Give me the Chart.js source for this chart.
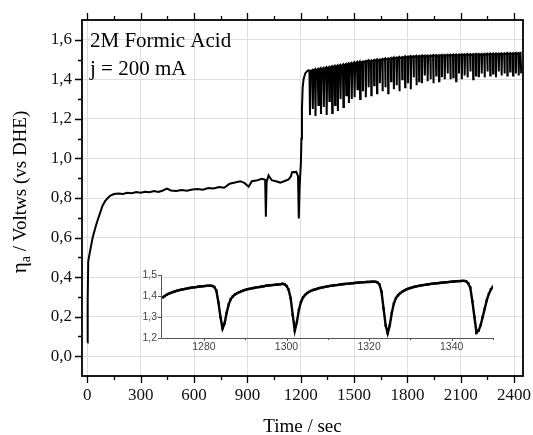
<!DOCTYPE html>
<html>
<head>
<meta charset="utf-8">
<script src="https://cdn.jsdelivr.net/npm/chart.js@4.4.0/dist/chart.umd.min.js"></script>
<style>
  body { margin: 0; background: #fff; }
  #wrap { position: relative; width: 533px; height: 435px; }
  #mainChart { position: absolute; left: 0; top: 0; }
  #insetChart { position: absolute; left: 120px; top: 255px; }
</style>
</head>
<body>
<div id="wrap">
  <canvas id="mainChart" width="533" height="435"></canvas>
  <canvas id="insetChart" width="390" height="105"></canvas>
</div>
<script>
// start-up and plateau, t in sec, potential in V
const rampTime = [0,2,5,15,30,45,55,70,85,100, 115,130,150,175,200,225,250,275,300,325,
  350,375,400,425,447,470,500,530,560,590, 620,650,680,710,740,770,800,830,860,885,
  907,925,950,982,1000,1004,1008,1019,1037,1060, 1085,1110,1132,1145,1151,1175,1185,1189,1194,1201,
  1204,1207,1211,1216,1225,1240];
const rampVolt = [0.07,0.28,0.48,0.53,0.60,0.65,0.68,0.72,0.76,0.785, 0.80,0.812,0.82,0.823,0.82,0.826,0.824,0.83,0.827,0.832,
  0.829,0.835,0.831,0.838,0.848,0.838,0.835,0.84,0.837,0.843, 0.846,0.842,0.85,0.848,0.856,0.852,0.872,0.878,0.885,0.875,
  0.857,0.885,0.888,0.897,0.892,0.705,0.88,0.914,0.89,0.885, 0.878,0.886,0.894,0.91,0.93,0.932,0.91,0.697,0.86,0.98,
  1.10,1.25,1.36,1.40,1.43,1.445];

// oscillating part after 1240 s
const oscTime = [
  1249,1252,1255, 1265,1268,1271, 1280,1283,1286, 1296,1299,1302,
  1311,1314,1317, 1327,1330,1333, 1343,1346,1349, 1358,1361,1364,
  1374,1377,1380, 1390,1393,1396, 1406,1409,1412, 1421,1424,1427,
  1437,1440,1443, 1453,1456,1459, 1468,1471,1474, 1484,1487,1490,
  1500,1503,1506, 1516,1519,1522, 1531,1534,1537, 1548,1550,1552,
  1564,1566,1568, 1580,1582,1584, 1595,1597,1599, 1611,1613,1615,
  1627,1629,1631, 1643,1645,1647, 1658,1660,1662, 1674,1676,1678,
  1690,1692,1694, 1706,1708,1710, 1722,1724,1726, 1738,1740,1742,
  1753,1755,1757, 1769,1771,1773, 1785,1787,1789, 1801,1803,1805,
  1817,1819,1821, 1833,1835,1837, 1849,1851,1853, 1864,1866,1868,
  1880,1882,1884, 1896,1898,1900, 1912,1914,1916, 1928,1930,1932,
  1944,1946,1948, 1960,1962,1964, 1976,1978,1980, 1992,1994,1996,
  2008,2010,2012, 2024,2026,2028, 2040,2042,2044, 2056,2058,2060,
  2072,2074,2076, 2088,2090,2092, 2104,2106,2108, 2120,2122,2124,
  2136,2138,2140, 2152,2154,2156, 2168,2170,2172, 2184,2186,2188,
  2200,2202,2204, 2216,2218,2220, 2232,2234,2236, 2248,2250,2252,
  2264,2266,2268, 2280,2282,2284, 2296,2298,2300, 2312,2314,2316,
  2328,2330,2332, 2344,2346,2348, 2360,2362,2364, 2376,2378,2380,
  2392,2394,2396, 2408,2410,2412, 2424,2426,2428, 2436,2440
];
const oscVolt = [
  1.445,1.22,1.44, 1.447,1.25,1.442, 1.45,1.215,1.445, 1.452,1.27,1.447,
  1.455,1.225,1.45, 1.457,1.26,1.452, 1.46,1.22,1.455, 1.462,1.29,1.457,
  1.465,1.23,1.46, 1.468,1.27,1.463, 1.47,1.24,1.465, 1.472,1.30,1.467,
  1.475,1.26,1.47, 1.477,1.32,1.472, 1.48,1.28,1.475, 1.482,1.30,1.477,
  1.485,1.31,1.48, 1.487,1.35,1.482, 1.49,1.30,1.485, 1.49,1.34,1.485,
  1.492,1.31,1.487, 1.495,1.36,1.49, 1.495,1.32,1.49, 1.497,1.37,1.492,
  1.50,1.33,1.495, 1.50,1.38,1.495, 1.502,1.34,1.497, 1.505,1.36,1.50,
  1.505,1.33,1.50, 1.507,1.39,1.502, 1.51,1.35,1.505, 1.51,1.37,1.505,
  1.512,1.34,1.507, 1.512,1.40,1.507, 1.515,1.36,1.51, 1.515,1.38,1.51,
  1.517,1.35,1.512, 1.517,1.41,1.512, 1.518,1.37,1.513, 1.518,1.39,1.513,
  1.52,1.38,1.515, 1.52,1.42,1.515, 1.52,1.39,1.515, 1.52,1.40,1.515,
  1.522,1.38,1.517, 1.522,1.42,1.517, 1.522,1.39,1.517, 1.523,1.41,1.518,
  1.523,1.40,1.518, 1.524,1.43,1.519, 1.524,1.40,1.519, 1.525,1.41,1.52,
  1.525,1.39,1.52, 1.525,1.43,1.52, 1.526,1.40,1.521, 1.526,1.42,1.521,
  1.527,1.41,1.522, 1.527,1.44,1.522, 1.527,1.40,1.522, 1.528,1.42,1.523,
  1.528,1.41,1.523, 1.528,1.43,1.523, 1.529,1.41,1.524, 1.529,1.44,1.524,
  1.53,1.42,1.525, 1.53,1.43,1.525, 1.53,1.41,1.525, 1.53,1.44,1.525,
  1.531,1.42,1.526, 1.531,1.43,1.526, 1.532,1.42,1.527, 1.532,1.44,1.527,
  1.532,1.42,1.527, 1.533,1.43,1.528, 1.533,1.42,1.528, 1.533,1.43
];

// inset: zoom on 1270-1350 s
const insetTime = [
  1270,1270.5,1271,1271.5,1272,1272.5,1273,1273.5,1274,1274.5,
  1275,1275.5,1276,1276.5,1277,1277.5,1278,1278.5,1279,1279.5,
  1280,1280.5,1281,1281.5,1282,1282.5,1283,1283.5,1284,1284.5,
  1285,1285.5,1286,1286.5,1287,1287.5,1288,1288.5,1289,1289.5,
  1290,1290.5,1291,1291.5,1292,1292.5,1293,1293.5,1294,1294.5,
  1295,1295.5,1296,1296.5,1297,1297.5,1298,1298.5,1299,1299.5,
  1300,1300.5,1301,1301.5,1302,1302.5,1303,1303.5,1304,1304.5,
  1305,1305.5,1306,1306.5,1307,1307.5,1308,1308.5,1309,1309.5,
  1310,1310.5,1311,1311.5,1312,1312.5,1313,1313.5,1314,1314.5,
  1315,1315.5,1316,1316.5,1317,1317.5,1318,1318.5,1319,1319.5,
  1320,1320.5,1321,1321.5,1322,1322.5,1323,1323.5,1324,1324.5,
  1325,1325.5,1326,1326.5,1327,1327.5,1328,1328.5,1329,1329.5,
  1330,1330.5,1331,1331.5,1332,1332.5,1333,1333.5,1334,1334.5,
  1335,1335.5,1336,1336.5,1337,1337.5,1338,1338.5,1339,1339.5,
  1340,1340.5,1341,1341.5,1342,1342.5,1343,1343.5,1344,1344.5,
  1345,1345.5,1346,1346.5,1347,1347.5,1348,1348.5,1349,1349.5,
  1350
];
const insetVolt = [
  1.393,1.400,1.406,1.411,1.415,1.419,1.422,1.425,1.428,1.430,
  1.432,1.434,1.436,1.438,1.440,1.441,1.442,1.444,1.445,1.446,
  1.447,1.448,1.449,1.449,1.448,1.443,1.425,1.370,1.300,1.245,
  1.270,1.320,1.360,1.385,1.398,1.407,1.413,1.418,1.422,1.426,
  1.429,1.432,1.434,1.436,1.438,1.440,1.442,1.443,1.445,1.446,
  1.449,1.450,1.451,1.452,1.453,1.454,1.455,1.456,1.458,1.456,
  1.448,1.430,1.390,1.310,1.235,1.275,1.335,1.372,1.393,1.405,
  1.414,1.420,1.425,1.429,1.432,1.435,1.438,1.440,1.442,1.444,
  1.446,1.448,1.449,1.451,1.452,1.453,1.455,1.456,1.457,1.458,
  1.459,1.460,1.461,1.462,1.463,1.464,1.465,1.465,1.466,1.467,
  1.467,1.468,1.468,1.468,1.465,1.455,1.420,1.340,1.260,1.222,
  1.260,1.320,1.365,1.390,1.403,1.413,1.420,1.426,1.431,1.435,
  1.438,1.441,1.444,1.446,1.448,1.450,1.452,1.453,1.455,1.456,
  1.458,1.459,1.460,1.461,1.462,1.463,1.464,1.465,1.466,1.467,
  1.468,1.469,1.470,1.471,1.471,1.472,1.472,1.470,1.460,1.440,
  1.375,1.300,1.225,1.235,1.260,1.300,1.340,1.380,1.410,1.432,
  1.445
];

const xMajor = [0,300,600,900,1200,1500,1800,2100,2400];
const xMinor = [150,450,750,1050,1350,1650,1950,2250];
const yMajor = [0,0.2,0.4,0.6,0.8,1.0,1.2,1.4,1.6];
const yMinor = [0.1,0.3,0.5,0.7,0.9,1.1,1.3,1.5];
const insetXMajor = [1280,1300,1320,1340];
const insetXMinor = [1290,1310,1330,1350];
const insetYMajor = [1.2,1.3,1.4,1.5];

const noteLines = ['2M Formic Acid', 'j = 200 mA'];
const xTitle = 'Time / sec';
const serif = '"Liberation Serif", "Times New Roman", serif';
const sans = '"Liberation Sans", Arial, sans-serif';

const commaFmt = v => Number(v).toFixed(1).replace('.', ',');

const mainPoints = rampTime.map((t, i) => ({x: t, y: rampVolt[i]}))
  .concat(oscTime.map((t, i) => ({x: t, y: oscVolt[i]})));

const mainFrame = {
  id: 'mainFrame',
  afterDraw(chart) {
    const {ctx, chartArea: a} = chart;
    const x = chart.scales.x, y = chart.scales.y;
    ctx.save();
    ctx.strokeStyle = '#000';
    ctx.lineWidth = 1.8;
    ctx.strokeRect(a.left, a.top, a.right - a.left, a.bottom - a.top);

    ctx.lineWidth = 1.3;
    ctx.beginPath();
    xMajor.forEach(v => {
      const px = Math.round(x.getPixelForValue(v)) + 0.5;
      ctx.moveTo(px, a.bottom); ctx.lineTo(px, a.bottom + 7);
      ctx.moveTo(px, a.top); ctx.lineTo(px, a.top - 7);
    });
    xMinor.forEach(v => {
      const px = Math.round(x.getPixelForValue(v)) + 0.5;
      ctx.moveTo(px, a.bottom); ctx.lineTo(px, a.bottom + 4);
      ctx.moveTo(px, a.top); ctx.lineTo(px, a.top - 4);
    });
    yMajor.forEach(v => {
      const py = Math.round(y.getPixelForValue(v)) + 0.5;
      ctx.moveTo(a.left, py); ctx.lineTo(a.left - 7, py);
    });
    yMinor.forEach(v => {
      const py = Math.round(y.getPixelForValue(v)) + 0.5;
      ctx.moveTo(a.left, py); ctx.lineTo(a.left - 4, py);
    });
    ctx.stroke();

    ctx.fillStyle = '#000';
    ctx.font = '21px ' + serif;
    ctx.textAlign = 'left';
    ctx.textBaseline = 'alphabetic';
    ctx.fillText(noteLines[0], 90, 47);
    ctx.fillText(noteLines[1], 90, 75);

    ctx.font = '19px ' + serif;
    ctx.textAlign = 'center';
    ctx.fillText(xTitle, (a.left + a.right) / 2, 432);

    // y title with subscript a
    const parts = [
      {t: 'η', f: '21px ' + serif, dy: 0},
      {t: 'a', f: '14px ' + serif, dy: 4},
      {t: ' / Voltws (vs DHE)', f: '19px ' + serif, dy: 0}
    ];
    let total = 0;
    parts.forEach(p => { ctx.font = p.f; p.w = ctx.measureText(p.t).width; total += p.w; });
    ctx.translate(26, 192);
    ctx.rotate(-Math.PI / 2);
    ctx.textAlign = 'left';
    let cx = -total / 2;
    parts.forEach(p => { ctx.font = p.f; ctx.fillText(p.t, cx, p.dy); cx += p.w; });
    ctx.restore();
  }
};

new Chart(document.getElementById('mainChart'), {
  type: 'line',
  data: {
    datasets: [{
      data: mainPoints,
      borderColor: '#000',
      borderWidth: 2,
      pointRadius: 0,
      tension: 0
    }]
  },
  options: {
    responsive: false,
    animation: false,
    layout: {padding: {top: 20, right: 10, left: 0, bottom: 0}},
    plugins: {legend: {display: false}, tooltip: {enabled: false}},
    scales: {
      x: {
        type: 'linear', min: -30, max: 2450,
        afterBuildTicks: s => { s.ticks = xMajor.map(v => ({value: v})); },
        afterFit: s => { s.height = 59; s.paddingLeft = 0; s.paddingRight = 0; },
        grid: {color: '#dedede', drawTicks: false},
        border: {display: false},
        ticks: {font: {family: serif, size: 17}, color: '#111', padding: 9, maxRotation: 0, autoSkip: false, callback: v => String(v)}
      },
      y: {
        type: 'linear', min: -0.1, max: 1.7,
        afterBuildTicks: s => { s.ticks = yMajor.map(v => ({value: v})); },
        afterFit: s => { s.width = 82; s.paddingTop = 0; s.paddingBottom = 0; },
        grid: {color: '#dedede', drawTicks: false},
        border: {display: false},
        ticks: {font: {family: serif, size: 17}, color: '#111', padding: 10, autoSkip: false, callback: commaFmt}
      }
    }
  },
  plugins: [mainFrame]
});

const insetFrame = {
  id: 'insetFrame',
  afterDraw(chart) {
    const {ctx, chartArea: a} = chart;
    const x = chart.scales.x, y = chart.scales.y;
    ctx.save();
    ctx.strokeStyle = '#555';
    ctx.lineWidth = 1;
    ctx.beginPath();
    ctx.moveTo(a.left + 0.5, a.top); ctx.lineTo(a.left + 0.5, a.bottom + 0.5); ctx.lineTo(a.right, a.bottom + 0.5);
    insetYMajor.forEach(v => {
      const py = Math.round(y.getPixelForValue(v)) + 0.5;
      ctx.moveTo(a.left, py); ctx.lineTo(a.left - 3, py);
    });
    insetXMajor.forEach(v => {
      const px = Math.round(x.getPixelForValue(v)) + 0.5;
      ctx.moveTo(px, a.bottom); ctx.lineTo(px, a.bottom + 3);
    });
    insetXMinor.forEach(v => {
      const px = Math.round(x.getPixelForValue(v)) + 0.5;
      ctx.moveTo(px, a.bottom); ctx.lineTo(px, a.bottom + 2);
    });
    ctx.stroke();
    ctx.restore();
  }
};

new Chart(document.getElementById('insetChart'), {
  type: 'line',
  data: {
    datasets: [{
      data: insetTime.map((t, i) => ({x: t, y: insetVolt[i]})),
      borderColor: '#000',
      backgroundColor: '#000',
      borderWidth: 2.4,
      pointStyle: 'rect',
      pointRadius: 1.7,
      pointBorderWidth: 0,
      tension: 0
    }]
  },
  options: {
    responsive: false,
    animation: false,
    layout: {padding: {top: 20, right: 17, left: 0, bottom: 0}},
    plugins: {legend: {display: false}, tooltip: {enabled: false}},
    scales: {
      x: {
        type: 'linear', min: 1269.6, max: 1350,
        afterBuildTicks: s => { s.ticks = insetXMajor.map(v => ({value: v})); },
        afterFit: s => { s.height = 22; s.paddingLeft = 0; s.paddingRight = 0; },
        grid: {display: false, drawTicks: false},
        border: {display: false},
        ticks: {font: {family: sans, size: 10.5}, color: '#444', padding: 3, maxRotation: 0, autoSkip: false, callback: v => String(v)}
      },
      y: {
        type: 'linear', min: 1.2, max: 1.5,
        afterBuildTicks: s => { s.ticks = insetYMajor.map(v => ({value: v})); },
        afterFit: s => { s.width = 41; s.paddingTop = 0; s.paddingBottom = 0; },
        grid: {display: false, drawTicks: false},
        border: {display: false},
        ticks: {font: {family: sans, size: 10.5}, color: '#444', padding: 4, autoSkip: false, callback: commaFmt}
      }
    }
  },
  plugins: [insetFrame]
});
</script>
</body>
</html>
